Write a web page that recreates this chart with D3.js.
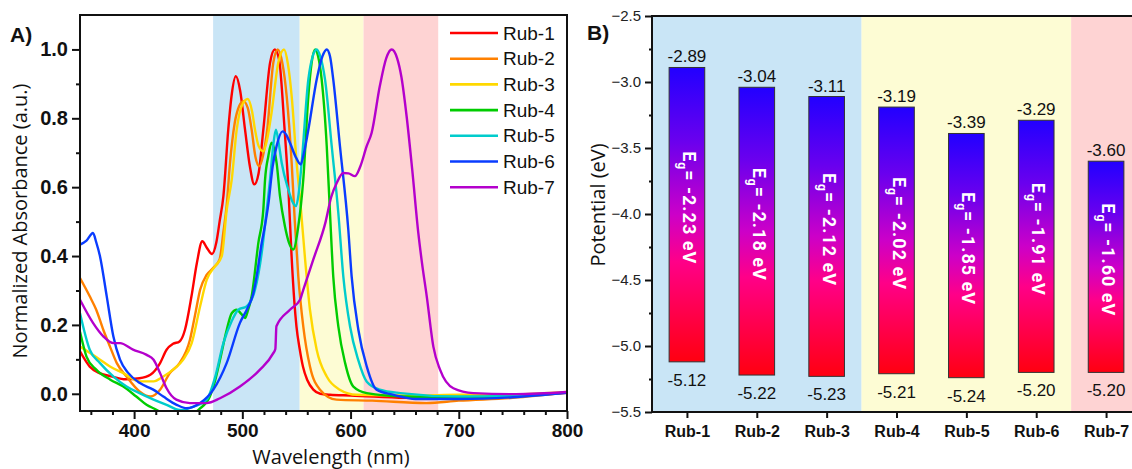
<!DOCTYPE html>
<html>
<head>
<meta charset="utf-8">
<script src="https://cdn.jsdelivr.net/npm/d3@7/dist/d3.min.js"></script>
<style>
  body { margin: 0; background: #fff; }
  svg { display: block; font-family: "Liberation Sans", Arial, sans-serif; }
</style>
</head>
<body>
<svg width="1132" height="469"></svg>
<script>
// ---- panel A : absorption spectra, [wavelength (nm), normalized absorbance]
const rub1 = [[350,0.123],[359,0.079],[368,0.06],[380,0.05],[392,0.042],[405,0.045],[415,0.055],[424,0.089],[430,0.128],[436,0.145],[442,0.152],[447,0.186],[453,0.283],[458,0.38],[463,0.443],[467,0.425],[472,0.406],[476,0.44],[479,0.5],[482.5,0.574],[487,0.767],[490,0.864],[494,0.922],[498,0.88],[502.5,0.767],[507,0.66],[511,0.608],[515,0.64],[519.4,0.767],[525.6,0.961],[530,1.0],[534,0.97],[539,0.77],[542.5,0.6],[545.5,0.4],[548,0.27],[550,0.196],[553,0.13],[556,0.079],[560,0.04],[565.6,0.012],[572,0.0],[581,-0.003],[600,-0.005],[650,-0.012],[700,-0.014],[750,-0.008],[800,0.003]];
const rub2 = [[350,0.336],[359,0.283],[365,0.244],[371.5,0.186],[377.7,0.137],[384,0.089],[393,0.05],[405,0.007],[415,-0.008],[424,0.012],[433,0.06],[442,0.089],[451.6,0.157],[457,0.24],[461,0.302],[467,0.345],[473,0.365],[479,0.39],[482.5,0.47],[485.6,0.55],[488.6,0.67],[493,0.787],[497,0.835],[501,0.85],[505,0.83],[508.6,0.767],[512,0.69],[515.7,0.661],[519,0.69],[523,0.767],[528.6,0.961],[532.7,1.0],[537,0.96],[541,0.864],[545.6,0.67],[548.5,0.5],[551.7,0.341],[556.3,0.196],[562.5,0.079],[571.8,0.012],[587,-0.017],[620,-0.02],[670,-0.027],[700,-0.02],[750,-0.012],[800,0.004]];
const rub3 = [[350,0.137],[368.5,0.099],[377.7,0.079],[390,0.06],[405,0.036],[418,0.036],[427,0.05],[436,0.07],[445.4,0.099],[453.2,0.147],[461,0.254],[467,0.33],[474.7,0.37],[481,0.4],[485.6,0.535],[490.2,0.622],[494.8,0.767],[500,0.84],[505,0.856],[509,0.82],[511.7,0.767],[515,0.72],[519.4,0.704],[523,0.74],[527,0.816],[533.2,0.961],[538.5,1.0],[542,0.96],[545.6,0.864],[550.2,0.67],[553.9,0.545],[558,0.39],[562.5,0.244],[568.7,0.128],[578,0.05],[590,0.012],[605.6,-0.003],[650,-0.005],[700,-0.003],[750,-0.002],[800,0.005]];
const rub4 = [[350,0.18],[356,0.108],[365,0.07],[378,0.041],[390,0.021],[402,-0.008],[411.5,-0.032],[421,-0.047],[430,-0.065],[445,-0.075],[460,-0.045],[470,-0.008],[475,0.04],[479.4,0.099],[485.6,0.186],[490.2,0.234],[494.8,0.244],[499,0.232],[502.5,0.22],[505,0.24],[508.6,0.283],[514.8,0.438],[519.4,0.535],[521,0.622],[524,0.69],[527,0.729],[529.5,0.71],[531.7,0.67],[534.8,0.574],[539.4,0.486],[543,0.44],[547,0.419],[551.7,0.486],[556.3,0.622],[561,0.864],[564,0.96],[567.2,1.0],[570,0.98],[573.3,0.913],[578,0.719],[581,0.525],[584,0.341],[588.7,0.196],[595,0.089],[602.6,0.021],[615,0.002],[650,-0.008],[700,-0.01],[750,-0.007],[800,0.004]];
const rub5 = [[350,0.234],[359,0.128],[368.5,0.089],[381,0.05],[393,0.021],[405,0.002],[418,-0.017],[430,-0.032],[442,-0.047],[455,-0.037],[467,-0.017],[475,0.05],[482.5,0.147],[490,0.21],[496.3,0.244],[504,0.254],[511.7,0.302],[517.9,0.409],[522,0.52],[525.6,0.622],[528.5,0.72],[531,0.767],[533.5,0.73],[536.4,0.67],[542.5,0.593],[546,0.56],[549.6,0.545],[552,0.58],[554.8,0.67],[561,0.913],[565,0.98],[568.7,1.0],[572,0.98],[576.4,0.913],[582.6,0.719],[588.7,0.525],[593.3,0.341],[599.5,0.196],[607,0.099],[615,0.035],[627,0.012],[646,0.002],[700,-0.008],[750,-0.006],[800,0.004]];
const rub6 = [[350,0.433],[356,0.445],[362,0.467],[365,0.44],[368.5,0.399],[374.7,0.283],[380.8,0.167],[387,0.099],[394.7,0.06],[405.4,0.031],[417.7,0.012],[427,-0.008],[439.3,-0.032],[448.6,-0.042],[461,-0.027],[473.2,0.012],[485.5,0.089],[497.8,0.206],[505,0.25],[510,0.29],[513.2,0.341],[517.9,0.438],[521,0.49],[524,0.55],[528,0.66],[531.7,0.72],[537.2,0.762],[541,0.75],[544,0.729],[549,0.69],[553.9,0.666],[557,0.7],[561,0.767],[568.7,0.913],[574,0.98],[578,1.0],[581,0.98],[584,0.913],[590.2,0.719],[597.9,0.477],[601,0.341],[607.2,0.186],[615,0.079],[624,0.012],[640,-0.003],[660,-0.015],[700,-0.015],[750,-0.01],[800,0.003]];
const rub7 = [[350,0.273],[362,0.206],[371.5,0.167],[381,0.147],[387,0.147],[399,0.128],[411.6,0.113],[418,0.099],[424,0.06],[430,0.016],[439,-0.017],[451.6,-0.027],[467,-0.027],[479.4,-0.013],[497.8,0.021],[516.3,0.07],[528.6,0.118],[530.5,0.13],[531.5,0.196],[544,0.244],[553.3,0.273],[556.3,0.302],[565.6,0.39],[577,0.5],[582,0.57],[587.2,0.612],[593.3,0.641],[598,0.64],[604,0.632],[609,0.66],[614.9,0.719],[619.5,0.758],[627,0.893],[633,0.975],[638,1.0],[643,0.975],[647,0.92],[651.8,0.806],[657,0.65],[662.6,0.467],[666,0.38],[670.4,0.283],[676.5,0.137],[682.7,0.07],[695,0.016],[713.5,0.002],[753,-0.001],[800,0.005]];

const seriesNames = ["Rub-1", "Rub-2", "Rub-3", "Rub-4", "Rub-5", "Rub-6", "Rub-7"];
const seriesColors = ["#ff0000", "#ff8000", "#ffd800", "#00cc00", "#00cccc", "#0a3cff", "#b400cc"];
const spectra = [rub1, rub2, rub3, rub4, rub5, rub6, rub7];

// shaded wavelength regions (nm)
const bandsNm = [[473, 553], [553, 612], [612, 681]];
const bandColors = ["#c9e5f6", "#fdfcd4", "#fed3d3"];

const xTicksA = [400, 500, 600, 700, 800];
const yTicksA = [0.0, 0.2, 0.4, 0.6, 0.8, 1.0];

// ---- panel B : energy levels (eV)
const cells = ["Rub-1", "Rub-2", "Rub-3", "Rub-4", "Rub-5", "Rub-6", "Rub-7"];
const lumo = [-2.89, -3.04, -3.11, -3.19, -3.39, -3.29, -3.60];
const homo = [-5.12, -5.22, -5.23, -5.21, -5.24, -5.20, -5.20];
const gapLabels = ["-2.23", "-2.18", "-2.12", "-2.02", "-1.85", "-1.91", "-1.60"];
const cellBand = [0, 0, 0, 1, 1, 1, 2];
const yTicksB = [-2.5, -3.0, -3.5, -4.0, -4.5, -5.0, -5.5];

const svg = d3.select("svg");

// =========================== panel A
const x = d3.scaleLinear().domain([350, 800]).range([80, 567]);
const y = d3.scaleLinear().domain([-0.05, 1.1]).range([411, 15]);

const gA = svg.append("g");

gA.append("defs").append("clipPath").attr("id", "clipA")
  .append("rect")
  .attr("x", 80).attr("y", 15)
  .attr("width", 487).attr("height", 396);

gA.selectAll("rect.band")
  .data(bandsNm)
  .enter().append("rect")
  .attr("class", "band")
  .attr("x", d => x(d[0]))
  .attr("y", y.range()[1])
  .attr("width", d => x(d[1]) - x(d[0]))
  .attr("height", y.range()[0] - y.range()[1])
  .attr("fill", (d, i) => bandColors[i]);

const line = d3.line()
  .x(d => x(d[0]))
  .y(d => y(d[1]))
  .curve(d3.curveMonotoneX);

gA.append("g")
  .attr("clip-path", "url(#clipA)")
  .selectAll("path")
  .data(spectra)
  .enter().append("path")
  .attr("d", line)
  .attr("fill", "none")
  .attr("stroke", (d, i) => seriesColors[i])
  .attr("stroke-width", 2.4)
  .attr("stroke-linejoin", "round");

// axes
const xMinor = d3.range(360, 800, 20).filter(v => v % 100 !== 0);
const yMinor = [0.1, 0.3, 0.5, 0.7, 0.9];

gA.append("g")
  .attr("transform", "translate(0,411)")
  .call(d3.axisBottom(x).tickValues(xMinor).tickSize(4).tickFormat(""))
  .call(g => g.select(".domain").remove())
  .call(g => g.selectAll("line").attr("stroke", "#111").attr("stroke-width", 2));

gA.append("g")
  .attr("transform", "translate(0,411)")
  .call(d3.axisBottom(x).tickValues(xTicksA).tickSize(8).tickPadding(5))
  .call(g => g.select(".domain").remove())
  .call(g => g.selectAll("line").attr("stroke", "#111").attr("stroke-width", 2))
  .call(g => g.selectAll("text")
    .attr("fill", "#111")
    .style("font-size", "19px")
    .style("font-weight", "bold"));

gA.append("g")
  .attr("transform", "translate(80,0)")
  .call(d3.axisLeft(y).tickValues(yMinor).tickSize(4).tickFormat(""))
  .call(g => g.select(".domain").remove())
  .call(g => g.selectAll("line").attr("stroke", "#111").attr("stroke-width", 2));

gA.append("g")
  .attr("transform", "translate(80,0)")
  .call(d3.axisLeft(y).tickValues(yTicksA).tickSize(8).tickPadding(4).tickFormat(d3.format(".1f")))
  .call(g => g.select(".domain").remove())
  .call(g => g.selectAll("line").attr("stroke", "#111").attr("stroke-width", 2))
  .call(g => g.selectAll("text")
    .attr("fill", "#111")
    .style("font-size", "20px")
    .style("font-weight", "bold"));

gA.append("rect")
  .attr("x", 80).attr("y", 15)
  .attr("width", 487).attr("height", 396)
  .attr("fill", "none")
  .attr("stroke", "#111")
  .attr("stroke-width", 2);

// legend
const legend = gA.append("g").attr("transform", "translate(450,33)");
const legendRow = legend.selectAll("g")
  .data(seriesNames)
  .enter().append("g")
  .attr("transform", (d, i) => "translate(0," + (i * 25.7) + ")");
legendRow.append("line")
  .attr("x1", 0).attr("x2", 48)
  .attr("stroke", (d, i) => seriesColors[i])
  .attr("stroke-width", 2.6);
legendRow.append("text")
  .attr("x", 53)
  .attr("dy", "0.35em")
  .style("font-size", "19px")
  .attr("fill", "#111")
  .text(d => d);

gA.append("text")
  .attr("x", 331).attr("y", 464)
  .attr("text-anchor", "middle")
  .style("font-family", "'Open Sans', sans-serif")
  .style("font-size", "20px")
  .attr("fill", "#111")
  .text("Wavelength (nm)");

gA.append("text")
  .attr("transform", "translate(27,221) rotate(-90)")
  .attr("text-anchor", "middle")
  .style("font-family", "'Open Sans', sans-serif")
  .style("font-size", "20px")
  .attr("fill", "#111")
  .text("Normalized Absorbance (a.u.)");

gA.append("text")
  .attr("x", 10).attr("y", 42)
  .style("font-size", "21px")
  .style("font-weight", "bold")
  .attr("fill", "#111")
  .text("A)");

// =========================== panel B
const xb = d3.scalePoint().domain(cells).range([652, 1141]).padding(0.5);
const yb = d3.scaleLinear().domain([-5.5, -2.5]).range([412, 16]);
const step = xb.step();
const barW = step * 0.51;

const gB = svg.append("g");

const defs = gB.append("defs");
const grad = defs.append("linearGradient")
  .attr("id", "barGrad")
  .attr("x1", 0).attr("y1", 0).attr("x2", 0).attr("y2", 1);
[["0%", "#2200ff"], ["25%", "#6a00ee"], ["50%", "#cc00c8"], ["66%", "#ff0088"], ["100%", "#ff0010"]]
  .forEach(s => grad.append("stop").attr("offset", s[0]).attr("stop-color", s[1]));

// background regions grouped by cell
const bandEdges = [0, 1, 2].map(b => {
  const idx = cells.filter((c, i) => cellBand[i] === b);
  const left = b === 0 ? xb.range()[0] : xb(idx[0]) - step / 2;
  const right = b === 2 ? xb.range()[1] : xb(idx[idx.length - 1]) + step / 2;
  return [left, right];
});

gB.selectAll("rect.band")
  .data(bandEdges)
  .enter().append("rect")
  .attr("class", "band")
  .attr("x", d => d[0])
  .attr("y", yb.range()[1])
  .attr("width", d => d[1] - d[0])
  .attr("height", yb.range()[0] - yb.range()[1])
  .attr("fill", (d, i) => bandColors[i]);

const bars = gB.selectAll("g.bar")
  .data(cells)
  .enter().append("g")
  .attr("class", "bar");

bars.append("rect")
  .attr("x", d => xb(d) - barW / 2)
  .attr("y", (d, i) => yb(lumo[i]))
  .attr("width", barW)
  .attr("height", (d, i) => yb(homo[i]) - yb(lumo[i]))
  .attr("fill", "url(#barGrad)")
  .attr("stroke", "#333")
  .attr("stroke-width", 1);

bars.append("text")
  .attr("x", d => xb(d))
  .attr("y", (d, i) => yb(lumo[i]) - 5)
  .attr("text-anchor", "middle")
  .style("font-size", "17px")
  .attr("fill", "#111")
  .text((d, i) => lumo[i].toFixed(2));

bars.append("text")
  .attr("x", d => xb(d))
  .attr("y", (d, i) => yb(homo[i]) + 24)
  .attr("text-anchor", "middle")
  .style("font-size", "17px")
  .attr("fill", "#111")
  .text((d, i) => homo[i].toFixed(2));

const eg = bars.append("text")
  .attr("transform", (d, i) => "translate(" + xb(d) + "," + (yb((lumo[i] + homo[i]) / 2) - 7) + ") rotate(90)")
  .attr("y", 4)
  .attr("text-anchor", "middle")
  .style("font-family", "Roboto, sans-serif")
  .style("font-size", "18px")
  .style("font-weight", "bold")
  .style("letter-spacing", "1px")
  .attr("fill", "#fff");
eg.append("tspan").text("E");
eg.append("tspan").attr("dy", 5).style("font-size", "12px").text("g");
eg.append("tspan").attr("dy", -5).text((d, i) => "= " + gapLabels[i] + " eV");

// axes
gB.append("g")
  .attr("transform", "translate(652,0)")
  .call(d3.axisLeft(yb).tickValues(d3.range(-5.25, -2.5, 0.5)).tickSize(3).tickFormat(""))
  .call(g => g.select(".domain").remove())
  .call(g => g.selectAll("line").attr("stroke", "#111").attr("stroke-width", 2));

gB.append("g")
  .attr("transform", "translate(652,0)")
  .call(d3.axisLeft(yb).tickValues(yTicksB).tickSize(7).tickPadding(4).tickFormat(d3.format(".1f")))
  .call(g => g.select(".domain").remove())
  .call(g => g.selectAll("line").attr("stroke", "#111").attr("stroke-width", 2))
  .call(g => g.selectAll("text")
    .attr("fill", "#222")
    .style("font-size", "15px"));

gB.append("g")
  .attr("transform", "translate(0,412)")
  .call(d3.axisBottom(xb).tickSize(6).tickPadding(8))
  .call(g => g.select(".domain").remove())
  .call(g => g.selectAll("line").attr("stroke", "#111").attr("stroke-width", 2))
  .call(g => g.selectAll("text")
    .attr("fill", "#111")
    .style("font-size", "16px")
    .style("font-weight", "bold"));

gB.append("rect")
  .attr("x", 652).attr("y", 16)
  .attr("width", 1141 - 652).attr("height", 396)
  .attr("fill", "none")
  .attr("stroke", "#111")
  .attr("stroke-width", 2);

gB.append("text")
  .attr("transform", "translate(605,205) rotate(-90)")
  .attr("text-anchor", "middle")
  .style("font-family", "'Open Sans', sans-serif")
  .style("font-size", "20px")
  .attr("fill", "#111")
  .text("Potential (eV)");

gB.append("text")
  .attr("x", 587).attr("y", 40)
  .style("font-size", "21px")
  .style("font-weight", "bold")
  .attr("fill", "#111")
  .text("B)");
</script>
</body>
</html>
